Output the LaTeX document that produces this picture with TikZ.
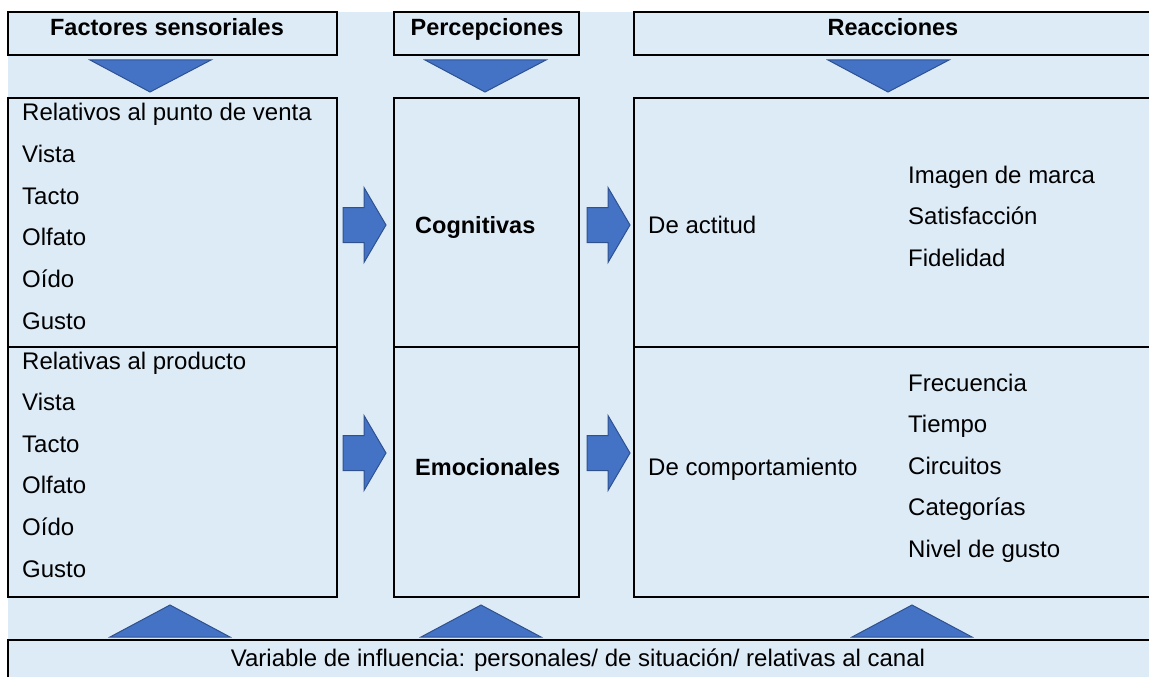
\documentclass[tikz,border=0pt]{standalone}
\usepackage{fontspec}
\setmainfont{Liberation Sans}
\usetikzlibrary{positioning}
\definecolor{panel}{HTML}{DDEBF7}
\definecolor{wedgefill}{HTML}{4472C4}
\definecolor{wedgeline}{HTML}{2F528F}

\begin{document}
\begin{tikzpicture}[x=1pt,y=-1pt,font=\fontsize{24}{29}\selectfont,
box/.style={draw, line width=1.8pt, fill=panel, inner sep=0pt, outer sep=0pt, anchor=north west},
title/.style={font=\fontsize{23.5}{28}\selectfont\bfseries, anchor=base, inner sep=0pt},
item/.style={anchor=base west, inner sep=0pt},
bolditem/.style={item, font=\fontsize{23.5}{28}\selectfont\bfseries},
wedge/.style={fill=wedgefill, draw=wedgeline, line width=1pt}]
\useasboundingbox (0,0) rectangle (1149,677);
\fill[panel] (8,12) rectangle (1149,677);
% header boxes
\node[box, minimum width=329pt, minimum height=43pt] (hsen) at (8,12) {};
\node[box, minimum width=185pt, minimum height=43pt] (hper) at (394,12) {};
\node[box, minimum width=525pt, minimum height=43pt] (hrea) at (634,12) {};
\node[title] (tsen) at (167,36) {Factores sensoriales};
\node[title] (tper) at (487,36) {Percepciones};
\node[title] (trea) at (893,36) {Reacciones};
% main boxes
\foreach \nm/\x/\w in {sen/8/329, per/394/185, rea/634/525} {
  \node[box, minimum width=\w pt, minimum height=249pt] (\nm-a) at (\x,98) {};
  \node[box, minimum width=\w pt, minimum height=250pt] (\nm-b) at (\x,347) {};
}
\node[box, minimum width=1151pt, minimum height=45pt] (infl) at (8,640) {};
% triangles
\foreach \cx in {150,485,888}
  \draw[wedge] (\cx-60,60) -- (\cx+61,60) -- (\cx,92) -- cycle;
\foreach \cx in {170,481,912}
  \draw[wedge] (\cx-60,637) -- (\cx+60,637) -- (\cx,605) -- cycle;
% block arrows
\foreach \lx in {343,587}
  \foreach \cy in {225,453}
    \draw[wedge] (\lx,\cy-17.5) -- (\lx+21,\cy-17.5) -- (\lx+21,\cy-37.5) -- (\lx+43,\cy)
      -- (\lx+21,\cy+37.5) -- (\lx+21,\cy+17.5) -- (\lx,\cy+17.5) -- cycle;
% texts
\foreach \t [count=\i] in {Relativos al punto de venta, Vista, Tacto, Olfato, Oído, Gusto}
  \node[item] (sa-\i) at (22,{79.4+41.6*\i}) {\t};
\foreach \t [count=\i] in {Relativas al producto, Vista, Tacto, Olfato, Oído, Gusto}
  \node[item] (sb-\i) at (22,{327.4+41.6*\i}) {\t};
\node[bolditem] (cog) at (415,233) {Cognitivas};
\node[bolditem] (emo) at (415,475) {Emocionales};
\node[item] (act) at (648,233) {De actitud};
\node[item] (com) at (648,475) {De comportamiento};
\foreach \t [count=\i] in {Imagen de marca, Satisfacción, Fidelidad}
  \node[item] (ra-\i) at (908,{141.5+41.5*\i}) {\t};
\foreach \t [count=\i] in {Frecuencia, Tiempo, Circuitos, Categorías, Nivel de gusto}
  \node[item] (rb-\i) at (908,{349.5+41.5*\i}) {\t};
\node[anchor=base, inner sep=0pt] (tinf) at (578,666)
  {Variable de influencia: personales/ de situación/ relativas al canal};
\end{tikzpicture}
\end{document}
